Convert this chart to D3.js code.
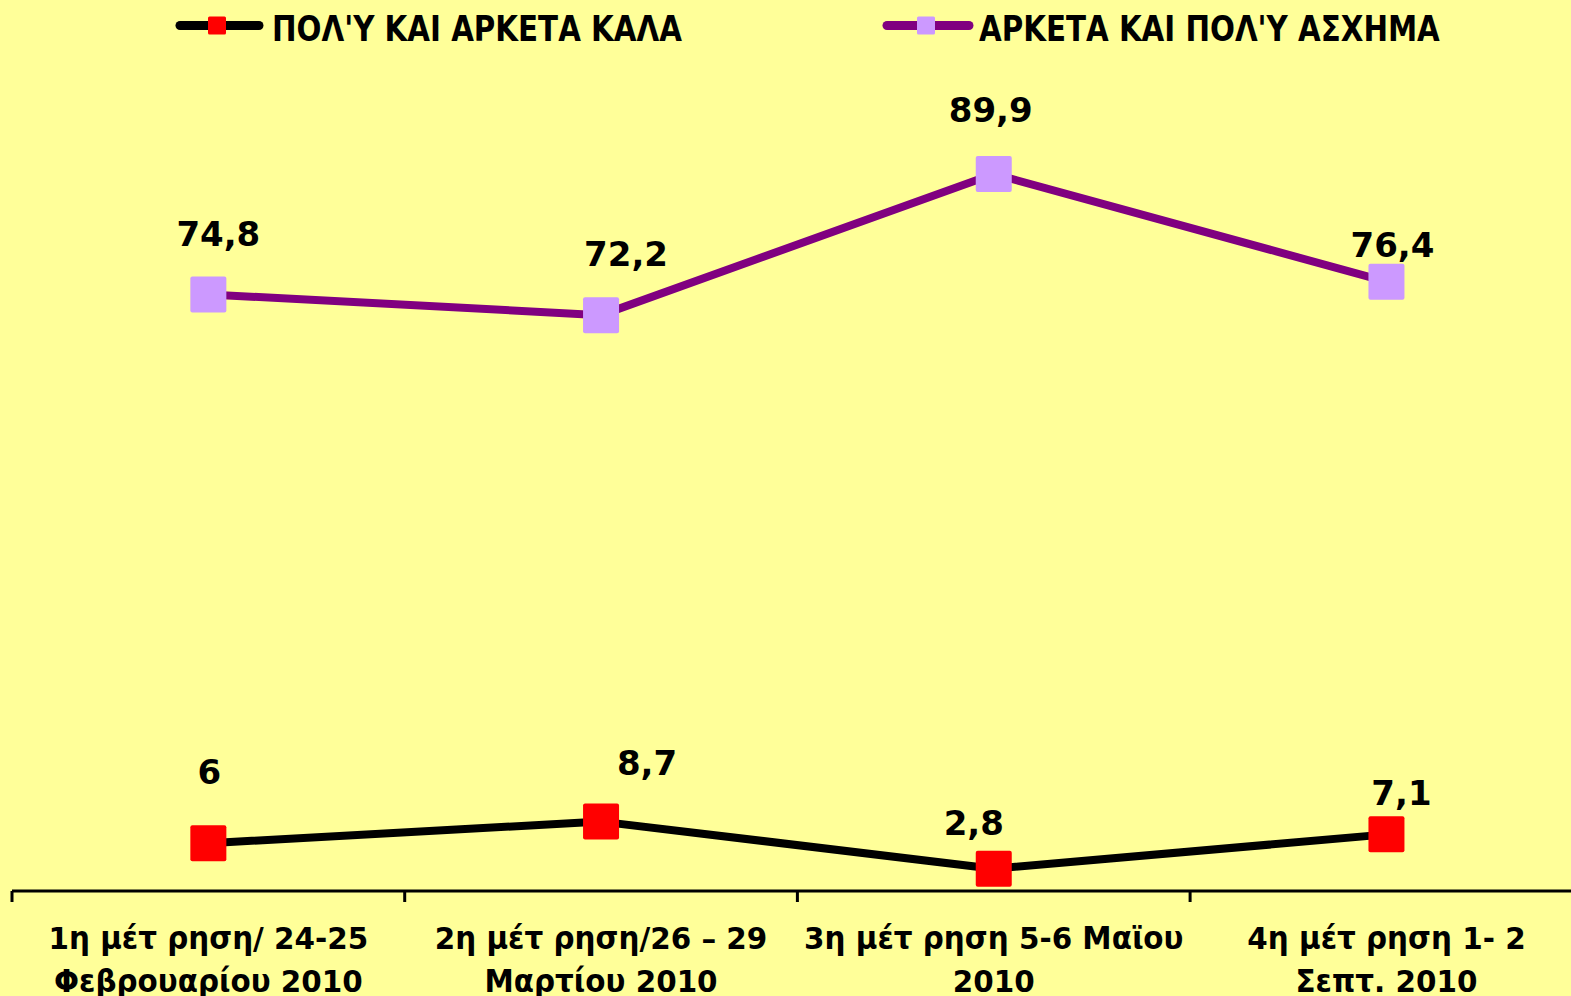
<!DOCTYPE html>
<html>
<head>
<meta charset="utf-8">
<script src="https://cdn.jsdelivr.net/npm/d3@7"></script>
<style>
  html, body { margin: 0; padding: 0; background: #FFFF99; overflow: hidden; }
  svg { display: block; }
  text { font-family: "DejaVu Sans", Verdana, sans-serif; font-weight: bold; fill: #000; }
</style>
</head>
<body>
<svg id="chart" width="1571" height="996"></svg>
<script>
// ---- data ----
const categories = [
  ["1η μέτ ρηση/ 24-25", "Φεβρουαρίου 2010"],
  ["2η μέτ ρηση/26 – 29", "Μαρτίου 2010"],
  ["3η μέτ ρηση 5-6 Μαϊου", "2010"],
  ["4η μέτ ρηση 1- 2", "Σεπτ. 2010"]
];
const seriesNames = ["ΠΟΛ'Υ ΚΑΙ ΑΡΚΕΤΑ ΚΑΛΑ", "ΑΡΚΕΤΑ ΚΑΙ ΠΟΛ'Υ ΑΣΧΗΜΑ"];
const goodValues = [6, 8.7, 2.8, 7.1];
const badValues = [74.8, 72.2, 89.9, 76.4];
const valueLabels = [["6", "8,7", "2,8", "7,1"], ["74,8", "72,2", "89,9", "76,4"]];

// ---- layout / style (not data) ----
const W = 1571, H = 996;
const styles = [
  { line: "#000000", marker: "#FF0000", legendX: 176, legendMarkerX: 217, legendTextX: 272 },
  { line: "#800080", marker: "#CC99FF", legendX: 883, legendMarkerX: 926, legendTextX: 979 }
];
// label offsets (dx: label centre - point x, dy: baseline - point y)
const labelOffsets = [
  [[1, -59], [46, -47], [-20, -34], [15, -29]],
  [[10, -48], [25, -49], [-3, -52], [6, -25]]
];

const svg = d3.select("#chart");
svg.append("rect").attr("width", W).attr("height", H).attr("fill", "#FFFF99");

const x = d3.scaleBand().domain(d3.range(categories.length)).range([12, 12 + 4 * 392.7]).padding(0);
const y = d3.scaleLinear().domain([0, 100]).range([891, 93.4]);

// axis
const axisG = svg.append("g");
axisG.append("line")
  .attr("x1", x.range()[0]).attr("x2", x.range()[1])
  .attr("y1", y(0)).attr("y2", y(0))
  .attr("stroke", "#000").attr("stroke-width", 3);
const boundaries = d3.range(categories.length + 1).map(i => x.range()[0] + i * x.step());
axisG.selectAll("line.tick").data(boundaries).join("line")
  .attr("class", "tick")
  .attr("x1", d => d).attr("x2", d => d)
  .attr("y1", y(0)).attr("y2", y(0) + 11)
  .attr("stroke", "#000").attr("stroke-width", 3);

const catG = axisG.selectAll("g.cat").data(categories).join("g")
  .attr("class", "cat")
  .attr("transform", (d, i) => `translate(${x(i) + x.bandwidth() / 2},0) scale(0.95,1)`);
catG.each(function(d) {
  const g = d3.select(this);
  d.forEach((line, j) => {
    g.append("text")
      .attr("x", 0).attr("y", 949 + j * 43)
      .attr("text-anchor", "middle")
      .attr("font-size", 31)
      .text(line);
  });
});

// series
const allSeries = [goodValues, badValues];
const lineGen = d3.line().x((d, i) => x(i) + x.bandwidth() / 2).y(d => y(d));

allSeries.forEach((vals, s) => {
  svg.append("path")
    .datum(vals)
    .attr("d", lineGen)
    .attr("fill", "none")
    .attr("stroke", styles[s].line)
    .attr("stroke-width", 8)
    .attr("stroke-linejoin", "round");
});

const M = 36;
allSeries.forEach((vals, s) => {
  svg.append("g").selectAll("rect").data(vals).join("rect")
    .attr("x", (d, i) => x(i) + x.bandwidth() / 2 - M / 2)
    .attr("y", d => y(d) - M / 2)
    .attr("width", M).attr("height", M)
    .attr("rx", 2)
    .attr("fill", styles[s].marker);
});

allSeries.forEach((vals, s) => {
  svg.append("g").selectAll("text").data(vals).join("text")
    .attr("x", (d, i) => x(i) + x.bandwidth() / 2 + labelOffsets[s][i][0])
    .attr("y", (d, i) => y(d) + labelOffsets[s][i][1])
    .attr("text-anchor", "middle")
    .attr("font-size", 34)
    .text((d, i) => valueLabels[s][i]);
});

// legend
seriesNames.forEach((name, s) => {
  const st = styles[s];
  const g = svg.append("g");
  const lineLen = s === 0 ? 87 : 90;
  g.append("line")
    .attr("x1", st.legendX + 4).attr("x2", st.legendX + lineLen - 4)
    .attr("y1", 25.5).attr("y2", 25.5)
    .attr("stroke", st.line).attr("stroke-width", 9)
    .attr("stroke-linecap", "round");
  g.append("rect")
    .attr("x", st.legendMarkerX - 9).attr("y", 16.5)
    .attr("width", 18).attr("height", 18).attr("rx", 1.5)
    .attr("fill", st.marker);
  g.append("text")
    .attr("transform", `translate(${st.legendTextX},41) scale(0.815,1)`)
    .attr("font-size", 36)
    .text(name);
});
</script>
</body>
</html>
